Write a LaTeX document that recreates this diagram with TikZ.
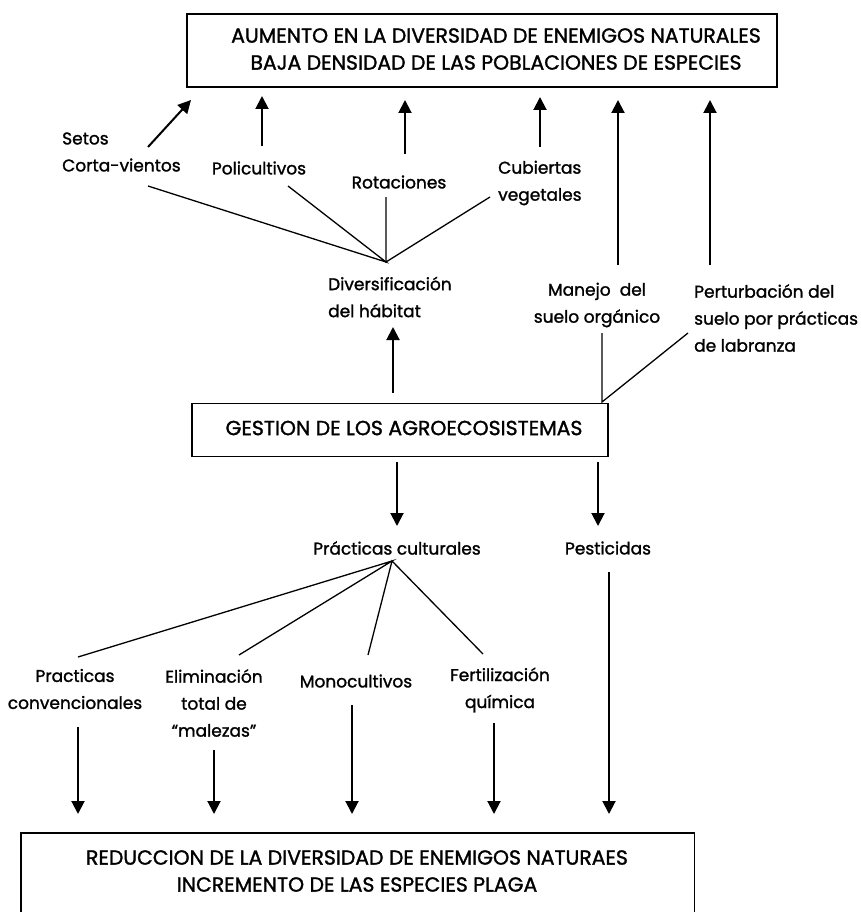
\documentclass[tikz,border=0pt]{standalone}
\usepackage{fontspec}
\setmainfont{Poppins}[BoldFont=Poppins,BoldFeatures={FakeBold=1.4}]
\usetikzlibrary{arrows.meta}
\begin{document}
\begin{tikzpicture}[x=1pt,y=-1pt,
  box/.style={draw,line width=1.4pt,inner sep=0pt},
  txt/.style={inner sep=0pt,font=\fontsize{17}{27}\selectfont\bfseries},
  captxt/.style={inner sep=0pt,font=\fontsize{20.4}{27}\selectfont\bfseries},
  arr/.style={line width=2pt,-{Triangle[length=13pt,width=13pt]}},
  ln/.style={line width=1.3pt}]
\useasboundingbox (0,0) rectangle (861,912);
% top box
\node[box,minimum width=590pt,minimum height=73pt] (top) at (482,50.5) {};
\node[captxt,align=center] (toptxt) at (496,49) {AUMENTO EN LA DIVERSIDAD DE ENEMIGOS NATURALES\\BAJA DENSIDAD DE LAS POBLACIONES DE ESPECIES};
% labels upper
\node[txt,align=left,anchor=west] (setos) at (62,152) {Setos\\Corta-vientos};
\node[txt] (poli) at (259,168) {Policultivos};
\node[txt] (rot) at (399,182) {Rotaciones};
\node[txt,align=left,anchor=west] (cub) at (498,183) {Cubiertas\\vegetales};
\node[txt,align=left,anchor=west] (div) at (328,297) {Diversificación\\del hábitat};
\node[txt,align=center] (man) at (597,305) {Manejo\ \ del\\suelo orgánico};
\node[txt,align=left,anchor=west] (pert) at (694,318) {Perturbación del\\suelo por prácticas\\de labranza};
% coordinates
\coordinate (t1s) at (148,147); \coordinate (t1e) at (191,100);
\coordinate (t2s) at (262,146); \coordinate (t2e) at (262,96);
\coordinate (t3s) at (405,154); \coordinate (t3e) at (405,100);
\coordinate (t4s) at (540,147); \coordinate (t4e) at (540,97);
\coordinate (t5s) at (618,265); \coordinate (t5e) at (618,100);
\coordinate (t6s) at (710,265); \coordinate (t6e) at (710,100);
\draw[arr] (t1s) -- (t1e);
\draw[arr] (t2s) -- (t2e);
\draw[arr] (t3s) -- (t3e);
\draw[arr] (t4s) -- (t4e);
\draw[arr] (t5s) -- (t5e);
\draw[arr] (t6s) -- (t6e);
% converging lines to diversification
\coordinate (D) at (386,262);
\coordinate (d1) at (148,186); \coordinate (d2) at (288,186);
\coordinate (d3) at (386,197); \coordinate (d4) at (490,197);
\draw[ln] (d1) -- (D) -- (d2);
\draw[ln] (d3) -- (D) -- (d4);
% middle box
\node[box,minimum width=416pt,minimum height=53pt] (mid) at (400,430) {};
\node[captxt] (midtxt) at (404,428) {GESTION DE LOS AGROECOSISTEMAS};
\coordinate (ds) at (393,393); \coordinate (de) at (393,327);
\draw[arr] (ds) -- (de);
\coordinate (M) at (602,402);
\coordinate (m1) at (602,333); \coordinate (m2) at (688,333);
\draw[ln] (m1) -- (M) -- (m2);
% down from mid
\coordinate (g1s) at (397,462); \coordinate (g1e) at (397,526);
\coordinate (g2s) at (598,462); \coordinate (g2e) at (598,526);
\draw[arr] (g1s) -- (g1e);
\draw[arr] (g2s) -- (g2e);
\node[txt] (prac) at (397,548) {Prácticas culturales};
\node[txt] (pest) at (608,548) {Pesticidas};
\coordinate (P) at (392,561);
\coordinate (p1) at (78,657); \coordinate (p2) at (239,655);
\coordinate (p3) at (368,655); \coordinate (p4) at (483,654);
\draw[ln] (p1) -- (P) -- (p2);
\draw[ln] (p3) -- (P) -- (p4);
% lower labels
\node[txt,align=center] (conv) at (75,689) {Practicas\\convencionales};
\node[txt,align=center] (elim) at (214,703) {Eliminación\\total de\\“malezas”};
\node[txt] (mono) at (356,681) {Monocultivos};
\node[txt,align=center] (fert) at (500,690) {Fertilización\\química};
% arrows to bottom
\coordinate (b1s) at (78,727); \coordinate (b1e) at (78,814);
\coordinate (b2s) at (214,750); \coordinate (b2e) at (214,814);
\coordinate (b3s) at (352,705); \coordinate (b3e) at (352,814);
\coordinate (b4s) at (494,723); \coordinate (b4e) at (494,814);
\coordinate (b5s) at (609,572); \coordinate (b5e) at (609,814);
\draw[arr] (b1s) -- (b1e);
\draw[arr] (b2s) -- (b2e);
\draw[arr] (b3s) -- (b3e);
\draw[arr] (b4s) -- (b4e);
\draw[arr] (b5s) -- (b5e);
% bottom box
\node[inner sep=0pt,minimum width=673pt,minimum height=80pt] (bot) at (357.5,873) {};
\draw[line width=1.4pt] (bot.south west) |- (bot.north east) -- (bot.south east);
\node[captxt,align=center] (bottxt) at (357,871) {REDUCCION DE LA DIVERSIDAD DE ENEMIGOS NATURAES\\INCREMENTO DE LAS ESPECIES PLAGA};
\end{tikzpicture}
\end{document}
